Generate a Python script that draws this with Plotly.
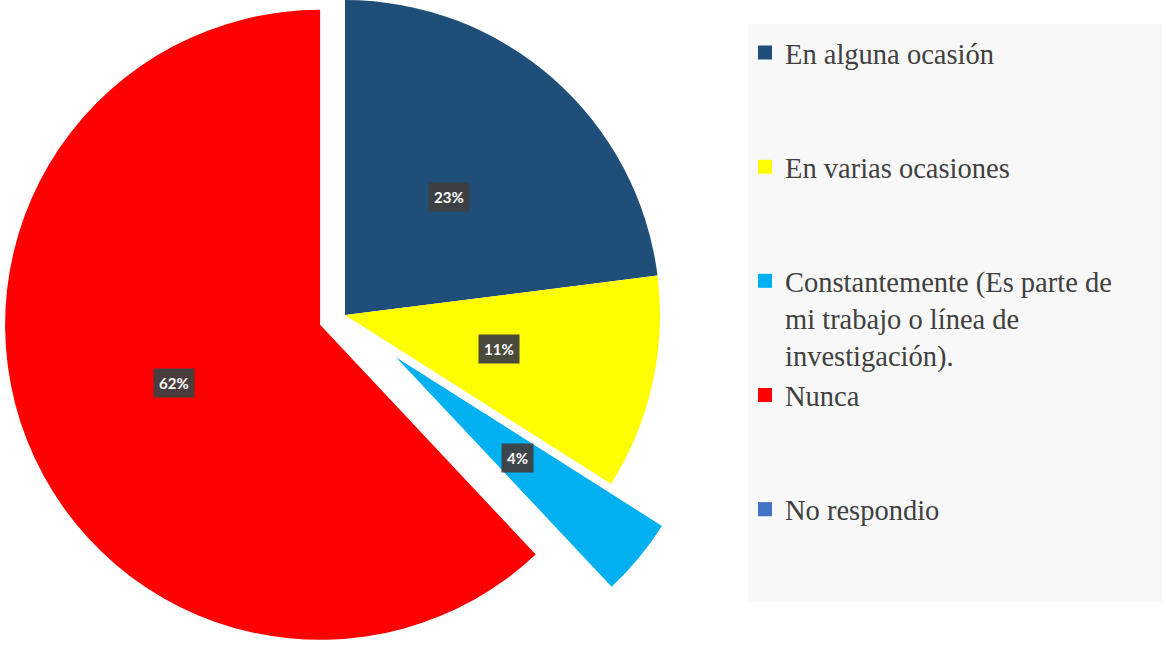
import math
import textwrap
import plotly.graph_objects as go

# ---- data ----
categories = [
    "En alguna ocasión",
    "En varias ocasiones",
    "Constantemente (Es parte de mi trabajo o línea de investigación).",
    "Nunca",
    "No respondio",
]
percent = [23, 11, 4, 62, 0]

# ---- style ----
colors = ["#1F4E79", "#FFFF00", "#00B0F0", "#FF0000", "#4472C4"]
pulls = [0, 0, 0.21, 0.085, 0]
W, H = 1166, 680          # page window shows the top 646 px
R = 315                   # pie radius in px
CX, CY = 345, 315         # pie centre in px (from top-left)
TRANSPARENT = "rgba(0,0,0,0)"

fig = go.Figure()
total = sum(percent)
cum = 0.0
annotations = []
for i, v in enumerate(percent):
    mid = (cum + v / 2) / total * 2 * math.pi
    cum += v
    if v == 0:
        continue
    ux, uy = math.sin(mid), -math.cos(mid)
    cx = CX + pulls[i] * R * ux
    cy = CY + pulls[i] * R * uy
    x0, x1 = (cx - R) / W, (cx + R) / W
    y0, y1 = (H - cy - R) / H, (H - cy + R) / H
    fig.add_trace(go.Pie(
        labels=categories,
        values=percent,
        sort=False,
        direction="clockwise",
        rotation=0,
        marker=dict(colors=[c if j == i else TRANSPARENT for j, c in enumerate(colors)],
                    line=dict(width=0)),
        textinfo="none",
        hoverinfo="skip",
        showlegend=False,
        domain=dict(x=[max(0, x0), min(1, x1)], y=[max(0, y0), min(1, y1)]),
    ))
    lx = cx + 0.5 * R * ux
    ly = cy + 0.5 * R * uy
    annotations.append(dict(
        x=lx / W, y=1 - ly / H, xref="paper", yref="paper",
        xanchor="center", yanchor="middle",
        text=f"<b>{v}%</b>", showarrow=False,
        font=dict(family="Lato, Open Sans, sans-serif", size=15, color="white"),
        bgcolor="rgba(64,64,64,0.95)", borderpad=5,
    ))

# legend entries
for name, c in zip(categories, colors):
    lines = textwrap.wrap(name, 27)
    lines += [" "] * (3 - len(lines))
    fig.add_trace(go.Scatter(
        x=[None], y=[None], mode="markers",
        marker=dict(symbol="square", size=14, color=c),
        name="<br>".join(lines), showlegend=True, hoverinfo="skip",
    ))

fig.update_layout(
    width=W, height=H,
    margin=dict(l=0, r=0, t=0, b=0),
    paper_bgcolor="white", plot_bgcolor="white",
    xaxis=dict(visible=False), yaxis=dict(visible=False),
    annotations=annotations,
    shapes=[dict(type="rect", xref="paper", yref="paper", layer="below",
                 x0=748 / W, x1=1162 / W, y0=1 - 602 / H, y1=1 - 24 / H,
                 fillcolor="#F8F8F8", line=dict(width=0))],
    legend=dict(
        x=745 / W, y=1 - 27.5 / H, xanchor="left", yanchor="top",
        bgcolor="rgba(0,0,0,0)", valign="top",
        font=dict(family="Liberation Serif, Times New Roman, serif", size=28.5, color="#404040"),
        itemclick=False, itemdoubleclick=False,
    ),
)

fig.write_html(
    "out.html",
    config={"displayModeBar": False},
    post_script="document.body.style.margin='0';document.body.style.overflow='hidden';",
)
